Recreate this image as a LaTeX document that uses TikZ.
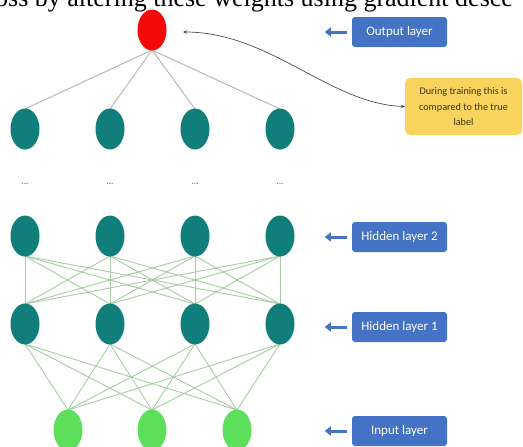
\documentclass[tikz,border=0pt]{standalone}
\usepackage{fontspec}
\setmainfont{Carlito}
\newfontfamily\serifx{Liberation Serif}
\usetikzlibrary{arrows.meta,shapes.geometric}
\definecolor{teal1}{HTML}{107F7B}
\definecolor{green1}{HTML}{5CDF5A}
\definecolor{red1}{HTML}{F50A0A}
\definecolor{blue1}{HTML}{4472C4}
\definecolor{yel1}{HTML}{F8D35E}
\definecolor{gline}{HTML}{B8B8B8}
\definecolor{hline}{HTML}{A9CBA5}
\definecolor{ytext}{HTML}{3A3520}
\tikzset{
  neuron/.style={ellipse, minimum width=29pt, minimum height=41pt, inner sep=0pt, draw=none},
  tealn/.style={neuron, fill=teal1},
  inn/.style={neuron, fill=green1},
  outn/.style={neuron, fill=red1},
  bluebox/.style={rectangle, rounded corners=3pt, fill=blue1, text=white, minimum width=95pt, minimum height=30pt, inner sep=0pt, font=\fontsize{13}{15}\selectfont},
  yelbox/.style={rectangle, rounded corners=5pt, fill=yel1, text=ytext, minimum width=117pt, minimum height=57pt, inner sep=0pt, align=center, font=\fontsize{10.2}{15.5}\selectfont},
  blarrow/.style={draw=blue1, line width=3pt, -{Triangle[length=6pt,width=9pt]}},
  wline/.style={draw=gline, line width=1pt},
  hlink/.style={draw=hline, line width=0.9pt},
  dotsn/.style={text=gray, font=\fontsize{9}{9}\selectfont\bfseries, inner sep=0pt}
}
\begin{document}
\begin{tikzpicture}[x=1pt,y=-1pt]
\useasboundingbox (0,0) rectangle (523,447);
\clip (0,0) rectangle (523,447);
% clipped caption line at top
\node[anchor=base west, inner sep=0pt, font=\serifx\fontsize{26}{26}\selectfont] (cap) at (-5,6) {oss by altering these weights using gradient desce};
% neuron coordinates
\coordinate (pout) at (152,30);
\foreach \x [count=\i] in {25,110,195,280} {
  \coordinate (pt\i) at (\x,129);
  \coordinate (pa\i) at (\x,236);
  \coordinate (pb\i) at (\x,324);
  \node[dotsn] (d\i) at (\x,184) {...};
}
\foreach \x [count=\i] in {68,152,237} {
  \coordinate (pc\i) at (\x,430);
}
% connections (drawn first, below the neurons)
\foreach \i in {1,...,4} {
  \draw[wline] ([yshift=-20pt]pout) -- ([yshift=20pt]pt\i);
}
\foreach \i in {1,...,4} {
  \foreach \j in {1,...,4} {
    \draw[hlink] ([yshift=-20pt]pa\i) -- ([yshift=20pt]pb\j);
  }
  \foreach \j in {1,...,3} {
    \draw[hlink] ([yshift=-20pt]pb\i) -- ([yshift=20pt]pc\j);
  }
}
% neurons
\node[outn] (out) at (pout) {};
\foreach \i in {1,...,4} {
  \node[tealn] (t\i) at (pt\i) {};
  \node[tealn] (a\i) at (pa\i) {};
  \node[tealn] (b\i) at (pb\i) {};
}
\foreach \i in {1,...,3} {
  \node[inn] (c\i) at (pc\i) {};
}
% labels
\node[bluebox] (lo) at (399.5,32) {Output layer};
\node[bluebox] (lh2) at (399.5,237) {Hidden layer 2};
\node[bluebox] (lh1) at (399.5,327) {Hidden layer 1};
\node[bluebox] (li) at (399.5,431) {Input layer};
\foreach \n in {lo,lh2,lh1,li} {
  \coordinate (\n s) at ([xshift=-5pt]\n.west);
  \coordinate (\n e) at ([xshift=-27pt]\n.west);
  \draw[blarrow] (\n s) -- (\n e);
}
\node[yelbox] (yb) at (463.5,106.5) {During training this is\\compared to the true\\label};
\coordinate (tipo) at (183,32);
\draw[draw=black!70, line width=0.7pt, {Stealth[length=4pt,width=3.5pt]}-{Stealth[length=4pt,width=3.5pt]}] (tipo) .. controls (270,32) and (330,104) .. (yb.west);
\end{tikzpicture}
\end{document}
